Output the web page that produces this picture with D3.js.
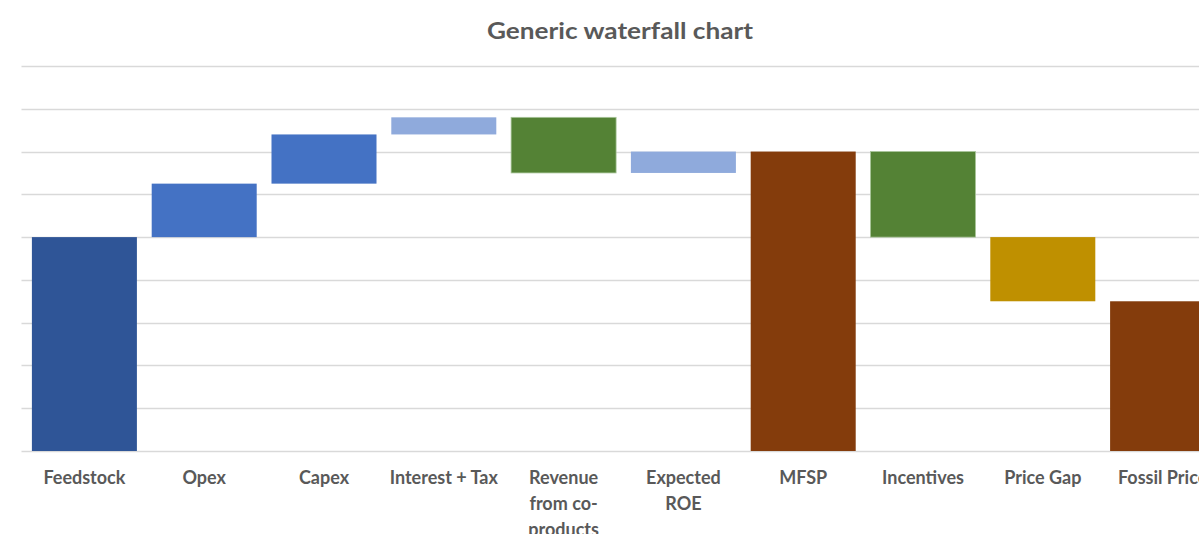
<!DOCTYPE html>
<html>
<head>
<meta charset="utf-8">
<script src="https://cdn.jsdelivr.net/npm/d3@7"></script>
<style>
  html, body { margin: 0; padding: 0; background: #fff; overflow: hidden; }
  .title { font-family: Lato, "Open Sans", sans-serif; font-weight: bold; fill: #595959; }
  .cat { font-family: Lato, "Open Sans", sans-serif; font-weight: bold; fill: #595959; }
</style>
</head>
<body>
<div id="vis"></div>
<script>
// data (grid units)
var categories = ['Feedstock', 'Opex', 'Capex', 'Interest + Tax', 'Revenue from co-products',
                  'Expected ROE', 'MFSP', 'Incentives', 'Price Gap', 'Fossil Price'];
var labelLines = [['Feedstock'], ['Opex'], ['Capex'], ['Interest + Tax'], ['Revenue', 'from co-', 'products'],
                  ['Expected', 'ROE'], ['MFSP'], ['Incentives'], ['Price Gap'], ['Fossil Price']];
var deltas = [5, 1.25, 1.15, 0.4, -1.3, 0.5, null, -2, -1.5, null];   // null = total bar
var kinds = ['feed', 'cost', 'cost', 'minor', 'credit', 'minor', 'total', 'credit', 'gap', 'total'];
var yTicks = [0, 1, 2, 3, 4, 5, 6, 7, 8, 9];

var width = 1199;
var height = 534;
var margin = { left: 24.5, top: 66, bottom: 83 };
var step = 119.8;

var fillColor = d3.scaleOrdinal()
  .domain(['feed', 'cost', 'minor', 'credit', 'total', 'gap'])
  .range(['#2F5597', '#4472C4', '#8FAADC', '#548235', '#843C0C', '#BF9000']);

// running totals
var running = 0;
var bars = categories.map(function (c, i) {
  var start, end;
  if (deltas[i] === null) {
    start = 0; end = running;
  } else {
    start = running; end = running + deltas[i]; running = end;
  }
  return { name: c, lines: labelLines[i], kind: kinds[i], y0: Math.min(start, end), y1: Math.max(start, end) };
});

var x = d3.scaleBand()
  .domain(categories)
  .range([margin.left, margin.left + step * categories.length])
  .paddingInner(0.1235)
  .paddingOuter(0.06175);

var y = d3.scaleLinear()
  .domain([0, 9])
  .range([height - margin.bottom, margin.top]);

var svg = d3.select('#vis').append('svg')
  .attr('width', width)
  .attr('height', height);

svg.append('text')
  .attr('class', 'title')
  .attr('x', 620)
  .attr('y', 38.5)
  .attr('text-anchor', 'middle')
  .attr('textLength', 266)
  .attr('lengthAdjust', 'spacingAndGlyphs')
  .style('font-size', '23px')
  .text('Generic waterfall chart');

// gridlines
svg.append('g').selectAll('line')
  .data(yTicks)
  .enter().append('line')
  .attr('x1', margin.left - 3)
  .attr('x2', width)
  .attr('y1', function (d) { return Math.round(y(d)) + 0.5; })
  .attr('y2', function (d) { return Math.round(y(d)) + 0.5; })
  .attr('stroke', '#d9d9d9')
  .attr('stroke-width', 1.3);

svg.append('g').selectAll('rect')
  .data(bars)
  .enter().append('rect')
  .attr('x', function (d) { return x(d.name); })
  .attr('width', x.bandwidth())
  .attr('y', function (d) { return y(d.y1); })
  .attr('height', function (d) { return y(d.y0) - y(d.y1); })
  .attr('fill', function (d) { return fillColor(d.kind); })
  .attr('stroke', function (d) { return d.kind === 'credit' ? '#a9c59a' : 'none'; })
  .attr('stroke-width', 0.8);

var labels = svg.append('g').selectAll('text')
  .data(bars)
  .enter().append('text')
  .attr('class', 'cat')
  .attr('text-anchor', 'middle')
  .style('font-size', '18px')
  .attr('x', function (d) { return x(d.name) + x.bandwidth() / 2; })
  .attr('y', 484);

labels.selectAll('tspan')
  .data(function (d) { return d.lines; })
  .enter().append('tspan')
  .attr('x', function () { return d3.select(this.parentNode).attr('x'); })
  .attr('dy', function (d, i) { return i === 0 ? 0 : 26; })
  .text(function (d) { return d; });
</script>
</body>
</html>
